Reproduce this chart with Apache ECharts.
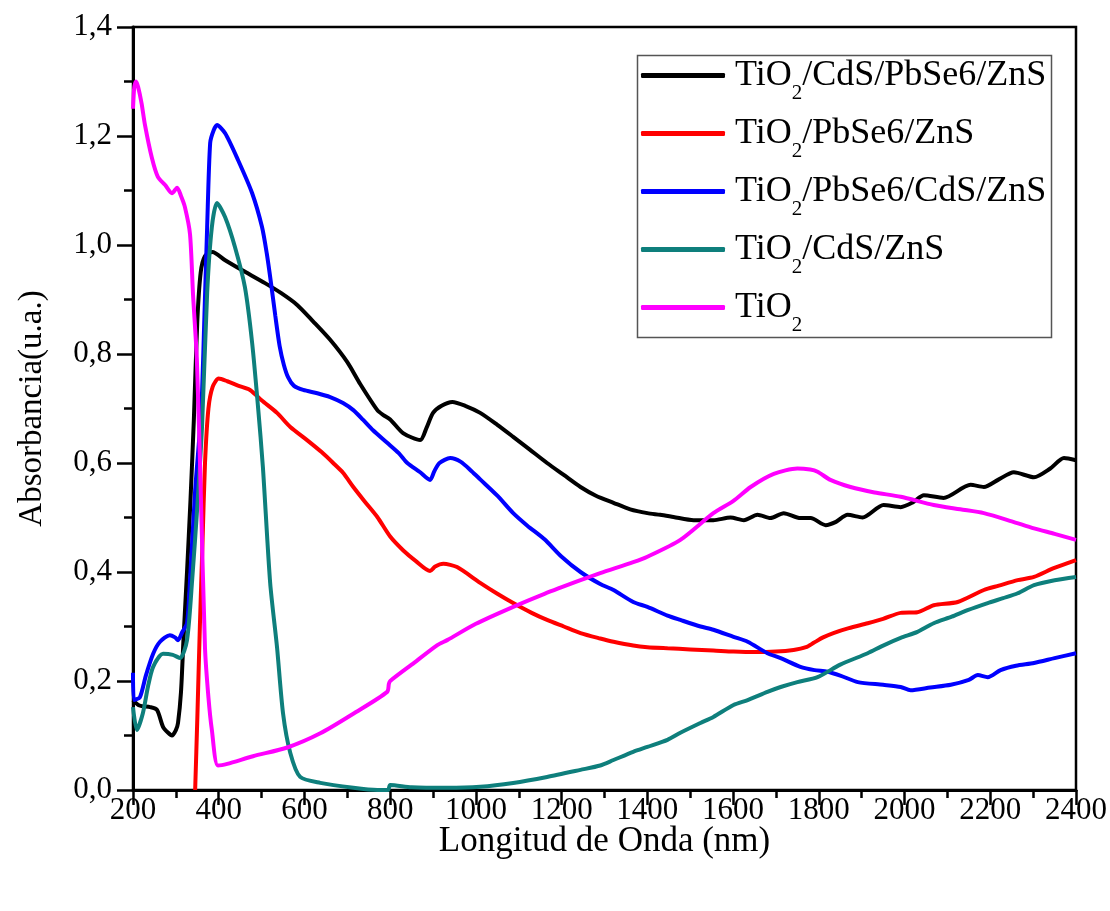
<!DOCTYPE html>
<html>
<head>
<meta charset="utf-8">
<script src="https://cdn.jsdelivr.net/npm/echarts@6/dist/echarts.min.js"></script>
<style>
  html, body { margin: 0; padding: 0; background: #fff; }
  #chart { width: 1110px; height: 911px; }
</style>
</head>
<body>
<div id="chart"></div>
<script>
// wavelength (nm), absorbance pairs
var names = ['TiO2/CdS/PbSe6/ZnS', 'TiO2/PbSe6/ZnS', 'TiO2/PbSe6/CdS/ZnS', 'TiO2/CdS/ZnS', 'TiO2'];
var colors = ['#000000', '#ff0000', '#0000ff', '#0e7f7c', '#ff00ff'];

var cdsPbseZns = [[200,0.165],[215,0.155],[240,0.152],[256,0.147],[270,0.116],[282,0.105],[291,0.10],[300,0.11],[305,0.123],[312,0.18],[318,0.28],[326,0.40],[334,0.53],[342,0.68],[350,0.86],[358,0.95],[368,0.98],[385,0.987],[415,0.972],[454,0.954],[508,0.93],[545,0.912],[583,0.89],[620,0.86],[660,0.826],[700,0.785],[730,0.745],[770,0.697],[784,0.688],[800,0.68],[830,0.655],[870,0.642],[885,0.665],[900,0.692],[920,0.705],[945,0.712],[975,0.705],[1010,0.692],[1050,0.67],[1087,0.648],[1125,0.625],[1166,0.6],[1205,0.578],[1244,0.556],[1280,0.54],[1321,0.527],[1360,0.515],[1400,0.508],[1430,0.505],[1461,0.501],[1508,0.495],[1554,0.495],[1594,0.50],[1625,0.495],[1657,0.505],[1687,0.499],[1718,0.508],[1757,0.499],[1781,0.499],[1816,0.486],[1840,0.492],[1867,0.505],[1902,0.50],[1951,0.523],[1991,0.519],[2020,0.528],[2045,0.541],[2091,0.536],[2154,0.56],[2185,0.556],[2220,0.57],[2255,0.583],[2302,0.574],[2340,0.59],[2372,0.609],[2400,0.605]];

var pbseZns = [[345,0.0],[350,0.13],[356,0.3],[362,0.45],[368,0.6],[376,0.7],[386,0.74],[400,0.755],[420,0.75],[445,0.742],[473,0.734],[500,0.715],[536,0.692],[567,0.666],[606,0.642],[640,0.62],[667,0.60],[690,0.582],[714,0.556],[740,0.53],[770,0.501],[800,0.465],[830,0.44],[860,0.42],[893,0.402],[905,0.41],[924,0.415],[956,0.409],[1010,0.38],[1050,0.36],[1087,0.343],[1130,0.325],[1166,0.312],[1205,0.30],[1244,0.288],[1290,0.278],[1321,0.272],[1367,0.265],[1400,0.262],[1447,0.26],[1500,0.258],[1554,0.256],[1601,0.254],[1650,0.253],[1700,0.254],[1741,0.257],[1770,0.262],[1788,0.27],[1810,0.28],[1834,0.288],[1870,0.297],[1914,0.306],[1950,0.314],[1991,0.325],[2030,0.326],[2068,0.339],[2124,0.345],[2185,0.367],[2220,0.375],[2264,0.385],[2302,0.391],[2348,0.407],[2400,0.422]];

var pbseCdsZns = [[200,0.215],[202,0.165],[216,0.17],[230,0.21],[247,0.25],[263,0.272],[286,0.284],[298,0.28],[305,0.275],[315,0.29],[326,0.306],[333,0.385],[345,0.55],[355,0.65],[361,0.728],[367,0.88],[373,1.033],[380,1.187],[388,1.21],[396,1.22],[415,1.205],[445,1.156],[478,1.095],[501,1.033],[512,0.985],[522,0.93],[532,0.87],[542,0.815],[552,0.78],[562,0.757],[575,0.742],[597,0.734],[630,0.728],[660,0.721],[690,0.71],[714,0.697],[737,0.679],[760,0.66],[793,0.637],[820,0.618],[840,0.60],[870,0.583],[893,0.569],[903,0.585],[915,0.60],[940,0.609],[965,0.602],[990,0.585],[1010,0.57],[1050,0.54],[1087,0.508],[1120,0.485],[1160,0.46],[1200,0.428],[1244,0.40],[1290,0.378],[1321,0.367],[1367,0.345],[1400,0.336],[1447,0.32],[1477,0.312],[1524,0.30],[1554,0.294],[1601,0.281],[1634,0.272],[1680,0.251],[1711,0.242],[1757,0.226],[1790,0.22],[1820,0.217],[1850,0.21],[1891,0.198],[1950,0.193],[1991,0.189],[2014,0.183],[2060,0.188],[2108,0.193],[2150,0.202],[2171,0.211],[2194,0.207],[2224,0.22],[2260,0.228],[2302,0.233],[2350,0.242],[2400,0.251]];

var cdsZns = [[200,0.152],[209,0.11],[223,0.141],[235,0.19],[247,0.226],[270,0.25],[293,0.248],[310,0.242],[326,0.275],[338,0.385],[350,0.52],[361,0.666],[373,0.912],[384,1.033],[396,1.077],[415,1.051],[438,0.996],[461,0.923],[478,0.82],[492,0.7],[503,0.593],[520,0.38],[536,0.262],[550,0.141],[567,0.068],[590,0.024],[637,0.013],[714,0.004],[770,0.0],[795,0.0],[800,0.009],[850,0.005],[933,0.004],[1010,0.006],[1087,0.013],[1166,0.024],[1244,0.037],[1290,0.045],[1321,0.055],[1367,0.07],[1400,0.079],[1447,0.092],[1477,0.105],[1524,0.123],[1554,0.134],[1601,0.156],[1634,0.165],[1680,0.18],[1711,0.189],[1750,0.198],[1797,0.207],[1850,0.23],[1914,0.251],[1950,0.265],[1991,0.279],[2030,0.29],[2068,0.306],[2110,0.318],[2147,0.33],[2194,0.343],[2230,0.352],[2264,0.361],[2302,0.376],[2350,0.385],[2400,0.391]];

var tio2 = [[200,1.25],[203,1.29],[207,1.30],[212,1.29],[220,1.26],[228,1.22],[244,1.16],[258,1.125],[275,1.11],[291,1.095],[303,1.105],[312,1.09],[321,1.07],[333,1.02],[340,0.91],[349,0.79],[358,0.55],[368,0.26],[376,0.17],[384,0.11],[398,0.045],[420,0.048],[480,0.062],[560,0.078],[637,0.104],[714,0.14],[793,0.18],[797,0.195],[800,0.20],[850,0.23],[910,0.266],[933,0.275],[1000,0.305],[1087,0.336],[1160,0.36],[1244,0.385],[1290,0.398],[1367,0.418],[1400,0.428],[1477,0.459],[1554,0.508],[1600,0.53],[1641,0.556],[1695,0.58],[1750,0.59],[1780,0.588],[1797,0.584],[1827,0.569],[1874,0.556],[1930,0.546],[1991,0.538],[2068,0.523],[2130,0.515],[2185,0.508],[2250,0.493],[2302,0.48],[2350,0.47],[2400,0.459]];

var seriesData = [cdsPbseZns, pbseZns, pbseCdsZns, cdsZns, tio2];

var serif = 'Liberation Serif';
var chart = echarts.init(document.getElementById('chart'), null, {renderer: 'canvas'});

var series = seriesData.map(function (d, i) {
    return {
        name: names[i],
        type: 'line',
        data: d,
        showSymbol: false,
        smooth: 0.25,
        color: colors[i],
        lineStyle: {width: 4, color: colors[i]}
    };
});

chart.setOption({
    animation: false,
    backgroundColor: '#fff',
    grid: {left: 133, right: 34, top: 27, bottom: 121, show: true, borderColor: '#000', borderWidth: 2.5},
    xAxis: {
        type: 'value', min: 200, max: 2400, interval: 200,
        name: 'Longitud de Onda (nm)', nameLocation: 'middle', nameGap: 34, nameMoveOverlap: false,
        nameTextStyle: {fontFamily: serif, fontSize: 35, color: '#000'},
        axisLine: {lineStyle: {color: '#000', width: 3}},
        axisTick: {length: 15, lineStyle: {color: '#000', width: 2.5}},
        minorTick: {show: true, splitNumber: 2, length: 8, lineStyle: {color: '#000', width: 2.5}},
        axisLabel: {
            fontFamily: serif, fontSize: 31, color: '#000', margin: 5,
            formatter: function (v) { return String(v); }
        },
        splitLine: {show: false}
    },
    yAxis: {
        type: 'value', min: 0, max: 1.4, interval: 0.2,
        name: 'Absorbancia(u.a.)', nameLocation: 'middle', nameGap: 84, nameMoveOverlap: false,
        nameTextStyle: {fontFamily: serif, fontSize: 33, color: '#000'},
        axisLine: {lineStyle: {color: '#000', width: 3}},
        axisTick: {length: 16, lineStyle: {color: '#000', width: 2.5}},
        minorTick: {show: true, splitNumber: 2, length: 9, lineStyle: {color: '#000', width: 2.5}},
        axisLabel: {
            fontFamily: serif, fontSize: 31, color: '#000', margin: 21,
            formatter: function (v) { return v.toFixed(1).replace('.', ','); }
        },
        splitLine: {show: false}
    },
    legend: {
        orient: 'vertical', left: 641, top: 47, padding: 0,
        itemWidth: 84, itemHeight: 5, itemGap: 1, icon: 'roundRect',
        data: names,
        formatter: function (name) {
            var rest = name.slice(4);
            return '{n|TiO}{s|2}' + (rest ? '{n|' + rest + '}' : '');
        },
        textStyle: {
            padding: [0, 0, 0, 5],
            rich: {
                n: {fontFamily: serif, fontSize: 36, color: '#000', lineHeight: 36, padding: [10, 0, 10, 0]},
                s: {fontFamily: serif, fontSize: 21, color: '#000', lineHeight: 20, padding: [36, 0, 0, 0]}
            }
        }
    },
    graphic: [{
        type: 'rect', left: 635, top: 53, z: 100, silent: true,
        shape: {width: 414, height: 282},
        style: {fill: 'none', stroke: '#555', lineWidth: 1.5}
    }],
    series: series
});
</script>
</body>
</html>
